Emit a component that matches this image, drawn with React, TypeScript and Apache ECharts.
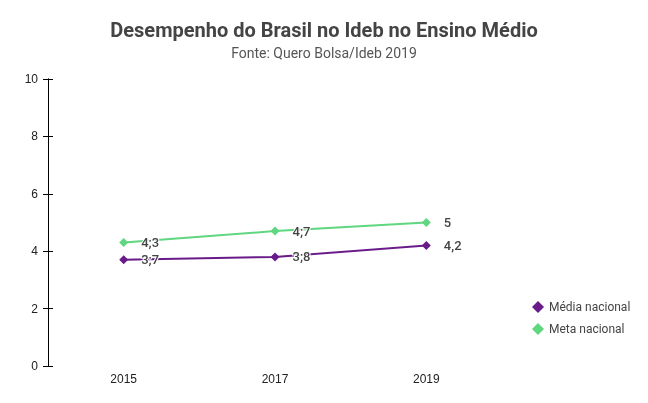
import React, { useEffect, useRef } from "react";
import * as echarts from "echarts";

const years = ["2015", "2017", "2019"];
const mediaNacional = [3.7, 3.8, 4.2];
const metaNacional = [4.3, 4.7, 5];
const mediaLabels = ["3;7", "3;8", "4,2"];
const metaLabels = ["4;3", "4;7", "5"];
const yTicks = [0, 2, 4, 6, 8, 10];

const PURPLE = "#6a1b8a";
const GREEN = "#5fd67f";

export default function App() {
  const ref = useRef<HTMLDivElement>(null);
  useEffect(() => {
    if (!ref.current) return;
    const chart = echarts.init(ref.current, undefined, { renderer: "svg" });
    const label = (arr: string[]) => ({
      show: true,
      position: "right",
      distance: 13,
      fontFamily: "Roboto",
      fontSize: 13,
      fontWeight: 500,
      color: "#444",
      textBorderColor: "#fff",
      textBorderWidth: 2,
      formatter: (p: any) => arr[p.dataIndex],
    });
    const yBase = {
      type: "value",
      min: yTicks[0],
      max: yTicks[yTicks.length - 1],
      interval: 2,
      position: "left",
      axisLine: { show: true, lineStyle: { color: "#000", width: 1 } },
      splitLine: { show: false },
    };
    chart.setOption({
      animation: false,
      textStyle: { fontFamily: "Roboto" },
      title: {
        text: "Desempenho do Brasil no Ideb no Ensino Médio",
        subtext: "Fonte: Quero Bolsa/Ideb 2019",
        left: "center",
        top: 15,
        itemGap: 6,
        textStyle: { fontFamily: "Roboto", fontSize: 20, fontWeight: "bold", color: "#444" },
        subtextStyle: { fontFamily: "Roboto", fontSize: 14, color: "#555" },
      },
      legend: {
        orient: "vertical",
        left: 527,
        top: 296,
        itemWidth: 12,
        itemHeight: 12,
        itemGap: 10,
        icon: "diamond",
        textStyle: { fontFamily: "Roboto", fontSize: 12, color: "#444" },
        data: ["Média nacional", "Meta nacional"],
      },
      grid: { left: 48, right: 146, top: 79, bottom: 37, containLabel: false },
      xAxis: {
        type: "category",
        data: years,
        boundaryGap: true,
        axisLine: { show: false },
        axisTick: { show: false },
        axisLabel: { color: "#222", fontSize: 12, fontFamily: "Liberation Sans", margin: 7 },
      },
      yAxis: [
        {
          ...yBase,
          axisTick: { show: true, length: 5, lineStyle: { color: "#000" } },
          axisLabel: { color: "#222", fontSize: 12, fontFamily: "Liberation Sans", margin: 10 },
        },
        {
          ...yBase,
          axisTick: { show: true, inside: true, length: 5, lineStyle: { color: "#000" } },
          axisLabel: { show: false },
        },
      ],
      series: [
        {
          name: "Média nacional",
          type: "line",
          data: mediaNacional,
          symbol: "diamond",
          symbolSize: 9,
          color: PURPLE,
          lineStyle: { width: 2, color: PURPLE },
          label: label(mediaLabels),
          z: 3,
        },
        {
          name: "Meta nacional",
          type: "line",
          data: metaNacional,
          symbol: "diamond",
          symbolSize: 9,
          color: GREEN,
          lineStyle: { width: 2, color: GREEN },
          label: label(metaLabels),
          z: 2,
        },
      ],
    });
    return () => chart.dispose();
  }, []);
  return (
    <div
      ref={ref}
      style={{ position: "fixed", left: 0, top: 0, width: 648, height: 403 }}
    />
  );
}
